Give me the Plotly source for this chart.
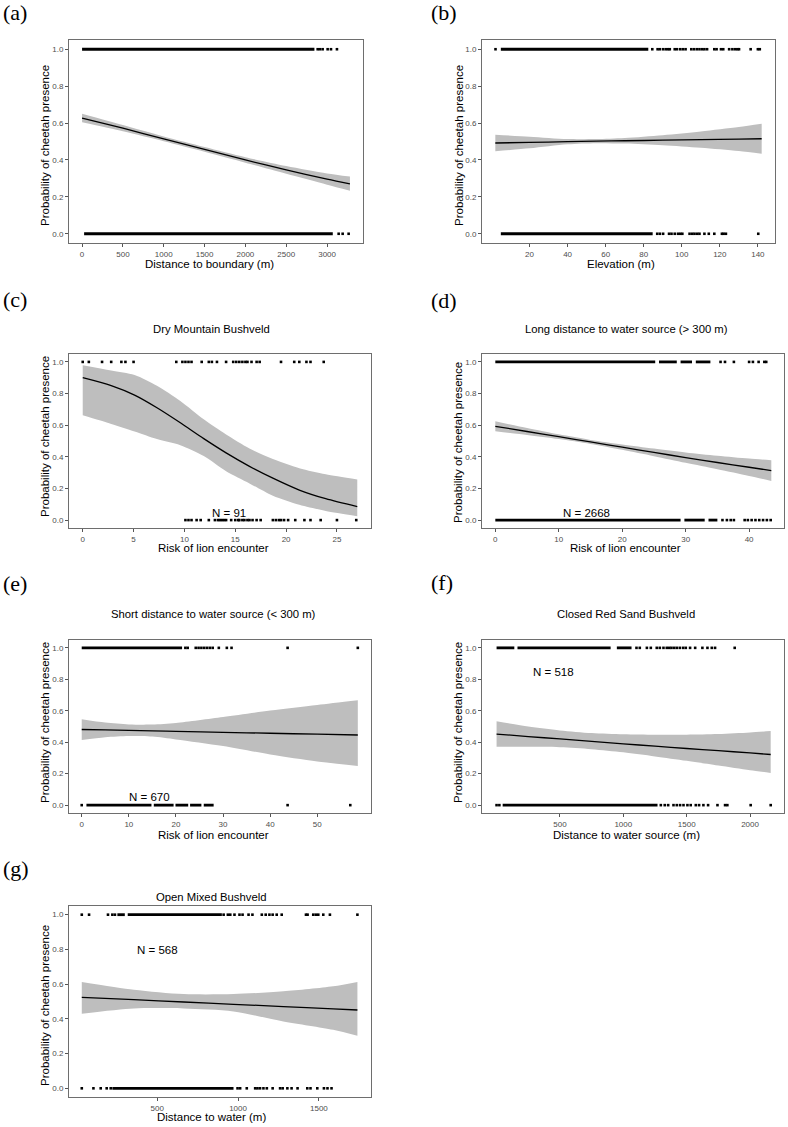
import plotly.graph_objects as go

W, H = 788, 1127
SANS = "Liberation Sans, Arial, sans-serif"
SERIF = "Liberation Serif, Times New Roman, serif"

Y_TICKS = [0.0, 0.2, 0.4, 0.6, 0.8, 1.0]

# ---------------- (a) Distance to boundary ----------------
A_fit_x = [0, 500, 1000, 1500, 2000, 2500, 3000, 3280]
A_fit = [0.627, 0.572, 0.514, 0.457, 0.400, 0.346, 0.296, 0.270]
A_lower = [0.604, 0.555, 0.501, 0.444, 0.385, 0.325, 0.266, 0.233]
A_upper = [0.650, 0.589, 0.527, 0.470, 0.415, 0.367, 0.327, 0.310]
A_pres_runs = [[0, 2845]]
A_pres_pts = [2885, 2913, 2946, 3007, 3048, 3121]
A_abs_runs = [[25, 3070]]
A_abs_pts = [3142, 3191, 3264]
A_xticks = [0, 500, 1000, 1500, 2000, 2500, 3000]

# ---------------- (b) Elevation ----------------
B_fit_x = [2, 20, 40, 55, 70, 90, 110, 130, 142]
B_fit = [0.492, 0.495, 0.499, 0.502, 0.504, 0.507, 0.510, 0.513, 0.515]
B_lower = [0.447, 0.463, 0.485, 0.491, 0.489, 0.480, 0.466, 0.448, 0.433]
B_upper = [0.537, 0.526, 0.513, 0.513, 0.519, 0.534, 0.554, 0.578, 0.596]
B_pres_runs = [[4.9, 82.4]]
B_pres_pts = [2.1, 84.5, 87.3, 88.5, 90.2, 91.6, 92.8, 93.7, 96.3, 97.5, 99.2,
              100.6, 102, 105, 106.4, 107.9, 109.3, 110.7, 111.9, 113.3, 117.1,
              118.3, 120.6, 121.8, 124.9, 126.6, 128, 129.2, 130.1, 136.2, 140, 141]
B_abs_runs = [[4.9, 84.7]]
B_abs_pts = [87.1, 88.5, 90.2, 93.3, 94.6, 96.3, 98, 99.2, 100.3, 104.1, 105.5,
             106.7, 108.1, 109.3, 111.9, 114.2, 117.1, 121.1, 122, 123.2, 140.2]
B_xticks = [20, 40, 60, 80, 100, 120, 140]

# ---------------- (c) Dry Mountain Bushveld ----------------
C_fit_x = [0, 2.8, 5.1, 7.3, 9.6, 11.9, 14.1, 16.4, 18.7, 21.3, 23.9, 27]
C_fit = [0.90, 0.85, 0.79, 0.71, 0.615, 0.515, 0.425, 0.34, 0.265, 0.19, 0.135, 0.085]
C_lower = [0.662, 0.608, 0.560, 0.512, 0.473, 0.405, 0.309, 0.232, 0.154, 0.097, 0.058, 0.025]
C_upper = [0.979, 0.946, 0.917, 0.849, 0.753, 0.637, 0.541, 0.453, 0.386, 0.328, 0.290, 0.257]
C_pres_runs = []
C_pres_pts = [0, 0.6, 1.9, 2.8, 3.8, 4.2, 5.0, 9.2, 9.8, 10.1, 10.4, 10.7, 11.7,
              12.4, 12.7, 13.2, 14.1, 14.8, 15.1, 15.4, 15.7, 16.0, 16.2, 16.6,
              17.1, 17.4, 19.5, 20.8, 21.3, 22.0, 22.4, 23.7]
C_abs_runs = []
C_abs_pts = [10.1, 10.4, 10.7, 11.2, 11.6, 12.4, 13.0, 13.3, 13.5, 13.7, 13.9,
             14.1, 14.6, 15.0, 15.3, 15.4, 15.7, 15.9, 16.2, 16.4, 16.7, 17.1,
             17.5, 18.7, 19.0, 19.3, 19.5, 19.8, 20.2, 20.9, 21.8, 22.4, 23.4,
             25.0, 26.9]
C_xticks = [0, 5, 10, 15, 20, 25]
C_n = "N = 91"

# ---------------- (d) Long distance to water ----------------
D_fit_x = [0, 5, 10, 15, 20, 25, 30, 35, 40, 43.5]
D_fit = [0.593, 0.560, 0.527, 0.494, 0.461, 0.428, 0.395, 0.364, 0.334, 0.313]
D_lower = [0.561, 0.538, 0.512, 0.481, 0.444, 0.404, 0.362, 0.321, 0.279, 0.247]
D_upper = [0.625, 0.582, 0.542, 0.507, 0.478, 0.452, 0.428, 0.407, 0.389, 0.379]
D_pres_runs = [[0, 25.2], [25.8, 28.6], [29.2, 31.0], [31.6, 33.9]]
D_pres_pts = [35.5, 36.2, 37.6, 40.0, 40.6, 41.5, 42.4, 42.7]
D_abs_runs = [[0, 29.2], [29.8, 33.0], [33.6, 35.0]]
D_abs_pts = [35.8, 36.5, 37.1, 37.6, 39.3, 39.8, 40.4, 41.0, 41.6, 42.2, 42.8, 43.4]
D_xticks = [0, 10, 20, 30, 40]
D_n = "N = 2668"

# ---------------- (e) Short distance to water ----------------
E_fit_x = [0, 5, 10, 15, 20, 30, 40, 50, 58.6]
E_fit = [0.481, 0.478, 0.475, 0.472, 0.469, 0.463, 0.457, 0.451, 0.446]
E_lower = [0.414, 0.432, 0.440, 0.436, 0.418, 0.376, 0.322, 0.278, 0.249]
E_upper = [0.546, 0.525, 0.513, 0.512, 0.522, 0.560, 0.601, 0.637, 0.667]
E_pres_runs = [[0, 21.3]]
E_pres_pts = [22.0, 22.5, 24.2, 24.8, 25.4, 26.0, 26.6, 27.2, 27.8, 29.1, 30.8,
              31.8, 43.7, 58.6]
E_abs_runs = [[1.0, 14.8], [15.3, 19.5], [19.9, 22.6], [23.0, 25.4], [25.9, 28.0]]
E_abs_pts = [0.0, 43.7, 57.0]
E_xticks = [0, 10, 20, 30, 40, 50]
E_n = "N = 670"

# ---------------- (f) Closed Red Sand Bushveld ----------------
F_fit_x = [0, 250, 500, 750, 1000, 1250, 1500, 1750, 2000, 2163]
F_fit = [0.452, 0.436, 0.421, 0.405, 0.390, 0.375, 0.360, 0.346, 0.332, 0.322]
F_lower = [0.372, 0.371, 0.368, 0.356, 0.336, 0.310, 0.282, 0.252, 0.222, 0.205]
F_upper = [0.533, 0.500, 0.475, 0.458, 0.450, 0.447, 0.448, 0.452, 0.462, 0.471]
F_pres_runs = [[0, 140], [165, 900], [949, 1065]]
F_pres_pts = [1104, 1130, 1186, 1217, 1264, 1288, 1317, 1343, 1362, 1380, 1401,
              1422, 1446, 1472, 1493, 1527, 1567, 1624, 1664, 1698, 1724, 1879]
F_abs_runs = [[48, 1270]]
F_abs_pts = [0, 22, 1296, 1327, 1354, 1396, 1422, 1448, 1475, 1506, 1532, 1572,
             1598, 1632, 1669, 1743, 1803, 1821, 2005, 2163]
F_xticks = [500, 1000, 1500, 2000]
F_n = "N = 518"

# ---------------- (g) Open Mixed Bushveld ----------------
G_fit_x = [34, 356, 664, 972, 1280, 1588, 1738]
G_fit = [0.524, 0.511, 0.497, 0.484, 0.471, 0.458, 0.451]
G_lower = [0.430, 0.460, 0.460, 0.443, 0.385, 0.337, 0.303]
G_upper = [0.613, 0.568, 0.543, 0.543, 0.559, 0.588, 0.613]
G_pres_runs = [[254, 300], [318, 900]]
G_pres_pts = [34, 79, 196, 223, 239, 911, 937, 952, 978, 1009, 1028, 1065, 1089,
              1147, 1171, 1194, 1214, 1239, 1270, 1420, 1430, 1465, 1481, 1496,
              1527, 1568, 1738]
G_abs_runs = [[223, 972]]
G_abs_pts = [34, 106, 151, 188, 213, 997, 1013, 1054, 1106, 1120, 1136, 1157,
             1178, 1214, 1260, 1276, 1305, 1331, 1368, 1428, 1448, 1490, 1531,
             1553, 1578]
G_xticks = [500, 1000, 1500]
G_n = "N = 568"

YLAB = "Probability of cheetah presence"

panels = [
    dict(lab="(a)", fx=A_fit_x, fit=A_fit, lo=A_lower, hi=A_upper,
         pr=A_pres_runs, pp=A_pres_pts, ar=A_abs_runs, ap=A_abs_pts,
         xt=A_xticks, xtitle="Distance to boundary (m)", title=None, n=None),
    dict(lab="(b)", fx=B_fit_x, fit=B_fit, lo=B_lower, hi=B_upper,
         pr=B_pres_runs, pp=B_pres_pts, ar=B_abs_runs, ap=B_abs_pts,
         xt=B_xticks, xtitle="Elevation (m)", title=None, n=None),
    dict(lab="(c)", fx=C_fit_x, fit=C_fit, lo=C_lower, hi=C_upper,
         pr=C_pres_runs, pp=C_pres_pts, ar=C_abs_runs, ap=C_abs_pts,
         xt=C_xticks, xtitle="Risk of lion encounter",
         title="Dry Mountain Bushveld", n=C_n),
    dict(lab="(d)", fx=D_fit_x, fit=D_fit, lo=D_lower, hi=D_upper,
         pr=D_pres_runs, pp=D_pres_pts, ar=D_abs_runs, ap=D_abs_pts,
         xt=D_xticks, xtitle="Risk of lion encounter",
         title="Long distance to water source (> 300 m)", n=D_n),
    dict(lab="(e)", fx=E_fit_x, fit=E_fit, lo=E_lower, hi=E_upper,
         pr=E_pres_runs, pp=E_pres_pts, ar=E_abs_runs, ap=E_abs_pts,
         xt=E_xticks, xtitle="Risk of lion encounter",
         title="Short distance to water source (< 300 m)", n=E_n),
    dict(lab="(f)", fx=F_fit_x, fit=F_fit, lo=F_lower, hi=F_upper,
         pr=F_pres_runs, pp=F_pres_pts, ar=F_abs_runs, ap=F_abs_pts,
         xt=F_xticks, xtitle="Distance to water source (m)",
         title="Closed Red Sand Bushveld", n=F_n),
    dict(lab="(g)", fx=G_fit_x, fit=G_fit, lo=G_lower, hi=G_upper,
         pr=G_pres_runs, pp=G_pres_pts, ar=G_abs_runs, ap=G_abs_pts,
         xt=G_xticks, xtitle="Distance to water (m)",
         title="Open Mixed Bushveld", n=G_n),
]

# layout geometry (pixels): plot box, x range, text positions
geom = [
    dict(box=(69, 363, 40, 243), xr=[-160, 3440], labp=(1, 12.5), tp=None,
         xtp=(209, 264), ytp=(45, 146), np=None),
    dict(box=(482, 775, 40, 243), xr=[-5, 149], labp=(429, 12.5), tp=None,
         xtp=(621, 264), ytp=(459, 146), np=None),
    dict(box=(69, 371, 354, 528), xr=[-1.35, 28.35], labp=(1, 299), tp=(211, 329),
         xtp=(213, 548), ytp=(45, 437), np=(14.4, 0.045)),
    dict(box=(482, 784, 354, 528), xr=[-2.1, 45.5], labp=(429, 300), tp=(626, 329),
         xtp=(625, 548), ytp=(458, 443), np=(14.4, 0.045)),
    dict(box=(69, 371, 640, 813), xr=[-2.7, 61.4], labp=(1, 583), tp=(213, 614),
         xtp=(213, 835), ytp=(45, 723), np=(14.4, 0.05)),
    dict(box=(482, 784, 640, 813), xr=[-115, 2268], labp=(429, 582), tp=(626, 614),
         xtp=(626, 835), ytp=(458, 723), np=(447, 0.845)),
    dict(box=(69, 371, 906, 1097), xr=[-45, 1822], labp=(1, 869), tp=(212, 897),
         xtp=(212, 1117), ytp=(45, 1006), np=(500, 0.796)),
]

fig = go.Figure()
annotations = []


def runs_xy(runs, yv):
    xs, ys = [], []
    for a, b in runs:
        xs += [a, b, None]
        ys += [yv, yv, None]
    return xs, ys


for i, (p, g) in enumerate(zip(panels, geom), start=1):
    xa = "x" if i == 1 else f"x{i}"
    ya = "y" if i == 1 else f"y{i}"
    # confidence band: lower edge, then upper edge filled down to it
    fig.add_trace(go.Scatter(
        x=p["fx"], y=p["lo"], mode="lines",
        line=dict(width=0, color="#bebebe", shape="spline", smoothing=0.8),
        hoverinfo="skip", xaxis=xa, yaxis=ya))
    fig.add_trace(go.Scatter(
        x=p["fx"], y=p["hi"], mode="lines", fill="tonexty", fillcolor="#bebebe",
        line=dict(width=0, color="#bebebe", shape="spline", smoothing=0.8),
        hoverinfo="skip", xaxis=xa, yaxis=ya))
    # fitted line
    fig.add_trace(go.Scatter(x=p["fx"], y=p["fit"], mode="lines",
                             line=dict(color="black", width=1.3, shape="spline",
                                       smoothing=0.8),
                             xaxis=xa, yaxis=ya))
    # dense observation strips
    rx1, ry1 = runs_xy(p["pr"], 1.0)
    rx0, ry0 = runs_xy(p["ar"], 0.0)
    if rx1 or rx0:
        fig.add_trace(go.Scatter(x=rx1 + rx0, y=ry1 + ry0, mode="lines",
                                 line=dict(color="black", width=2.8),
                                 xaxis=xa, yaxis=ya))
    # individual observations
    px_ = list(p["pp"]) + list(p["ap"])
    py_ = [1.0] * len(p["pp"]) + [0.0] * len(p["ap"])
    fig.add_trace(go.Scatter(x=px_, y=py_, mode="markers",
                             marker=dict(symbol="square", size=2.6, color="black",
                                         line=dict(width=0)),
                             xaxis=xa, yaxis=ya))

    x0, x1, y0, y1 = g["box"]
    axis_common = dict(showline=True, mirror=True, linecolor="#6e6e6e", linewidth=1,
                       ticks="outside", ticklen=3, tickcolor="#555555", tickwidth=1,
                       showgrid=False, zeroline=False,
                       tickfont=dict(family=SANS, size=8, color="#4d4d4d"))
    fig.layout[f"xaxis{'' if i == 1 else i}"] = dict(
        domain=[x0 / W, x1 / W], anchor=ya, range=g["xr"],
        tickvals=p["xt"], **axis_common)
    fig.layout[f"yaxis{'' if i == 1 else i}"] = dict(
        domain=[1 - y1 / H, 1 - y0 / H], anchor=xa, range=[-0.05, 1.05],
        tickvals=Y_TICKS, tickformat=".1f", **axis_common)

    # panel letter
    annotations.append(dict(text=p["lab"], x=g["labp"][0] / W, y=1 - g["labp"][1] / H,
                            xref="paper", yref="paper", xanchor="left", yanchor="middle",
                            showarrow=False, font=dict(family=SERIF, size=22, color="black")))
    if p["title"]:
        annotations.append(dict(text=p["title"], x=g["tp"][0] / W, y=1 - g["tp"][1] / H,
                                xref="paper", yref="paper", xanchor="center",
                                yanchor="middle", showarrow=False,
                                font=dict(family=SANS, size=11.3, color="black")))
    annotations.append(dict(text=p["xtitle"], x=g["xtp"][0] / W, y=1 - g["xtp"][1] / H,
                            xref="paper", yref="paper", xanchor="center", yanchor="middle",
                            showarrow=False, font=dict(family=SANS, size=11.5, color="black")))
    annotations.append(dict(text=YLAB, x=g["ytp"][0] / W, y=1 - g["ytp"][1] / H,
                            xref="paper", yref="paper", xanchor="center", yanchor="middle",
                            textangle=-90, showarrow=False,
                            font=dict(family=SANS, size=11.5, color="black")))
    if p["n"]:
        annotations.append(dict(text=p["n"], x=g["np"][0], y=g["np"][1],
                                xref=xa, yref=ya, xanchor="center", yanchor="middle",
                                showarrow=False,
                                font=dict(family=SANS, size=11.5, color="black")))

fig.update_layout(width=W, height=H, margin=dict(l=0, r=0, t=0, b=0),
                  plot_bgcolor="white", paper_bgcolor="white", showlegend=False,
                  annotations=annotations)

fig.write_html("out.html", config={"displayModeBar": False},
               post_script="document.body.style.margin='0';document.body.style.padding='0';")
